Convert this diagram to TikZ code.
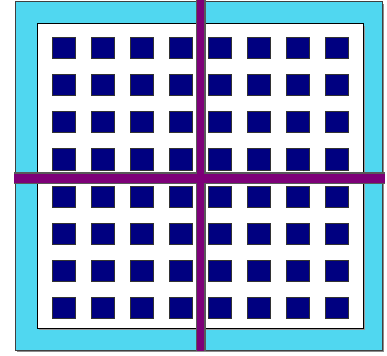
\documentclass[tikz,border=0pt]{standalone}
\usepackage{xcolor}
\definecolor{frameblue}{RGB}{80,215,240}
\definecolor{padnavy}{RGB}{0,0,128}
\definecolor{barpurple}{RGB}{125,0,120}
\begin{document}
\begin{tikzpicture}[x=1pt,y=-1pt,
  pad/.style={fill=padnavy,draw=black!80,line width=1pt},
  barout/.style={line width=10pt,draw=black!65},
  barin/.style={line width=7pt,draw=barpurple}]
\useasboundingbox (0,0) rectangle (387,355);
% outer frame
\fill[black!45] (17,4) rectangle (384,352);
\draw[fill=frameblue,draw=black!75,line width=1pt] (15,2) rectangle (382,350);
% inner field
\fill[black!40] (39,26) rectangle (365,330);
\draw[fill=white,draw=black,line width=1pt] (37,24) rectangle (363,328);
% pads
\foreach \i in {0,...,7}
  \foreach \j in {0,...,7}
    \draw[pad] ({52+39.1*\i},{38+37*\j}) rectangle +(23,21);
% cut lines
\coordinate (top) at (200.5,0);
\coordinate (bottom) at (200.5,351);
\coordinate (left) at (14,178);
\coordinate (right) at (385,178);
\draw[barout,line width=12pt] (left) -- (right);
\draw[barout] (top) -- (bottom);
\draw[barin,line width=9pt] (left) -- (right);
\draw[barin] (top) -- (bottom);
\end{tikzpicture}
\end{document}
